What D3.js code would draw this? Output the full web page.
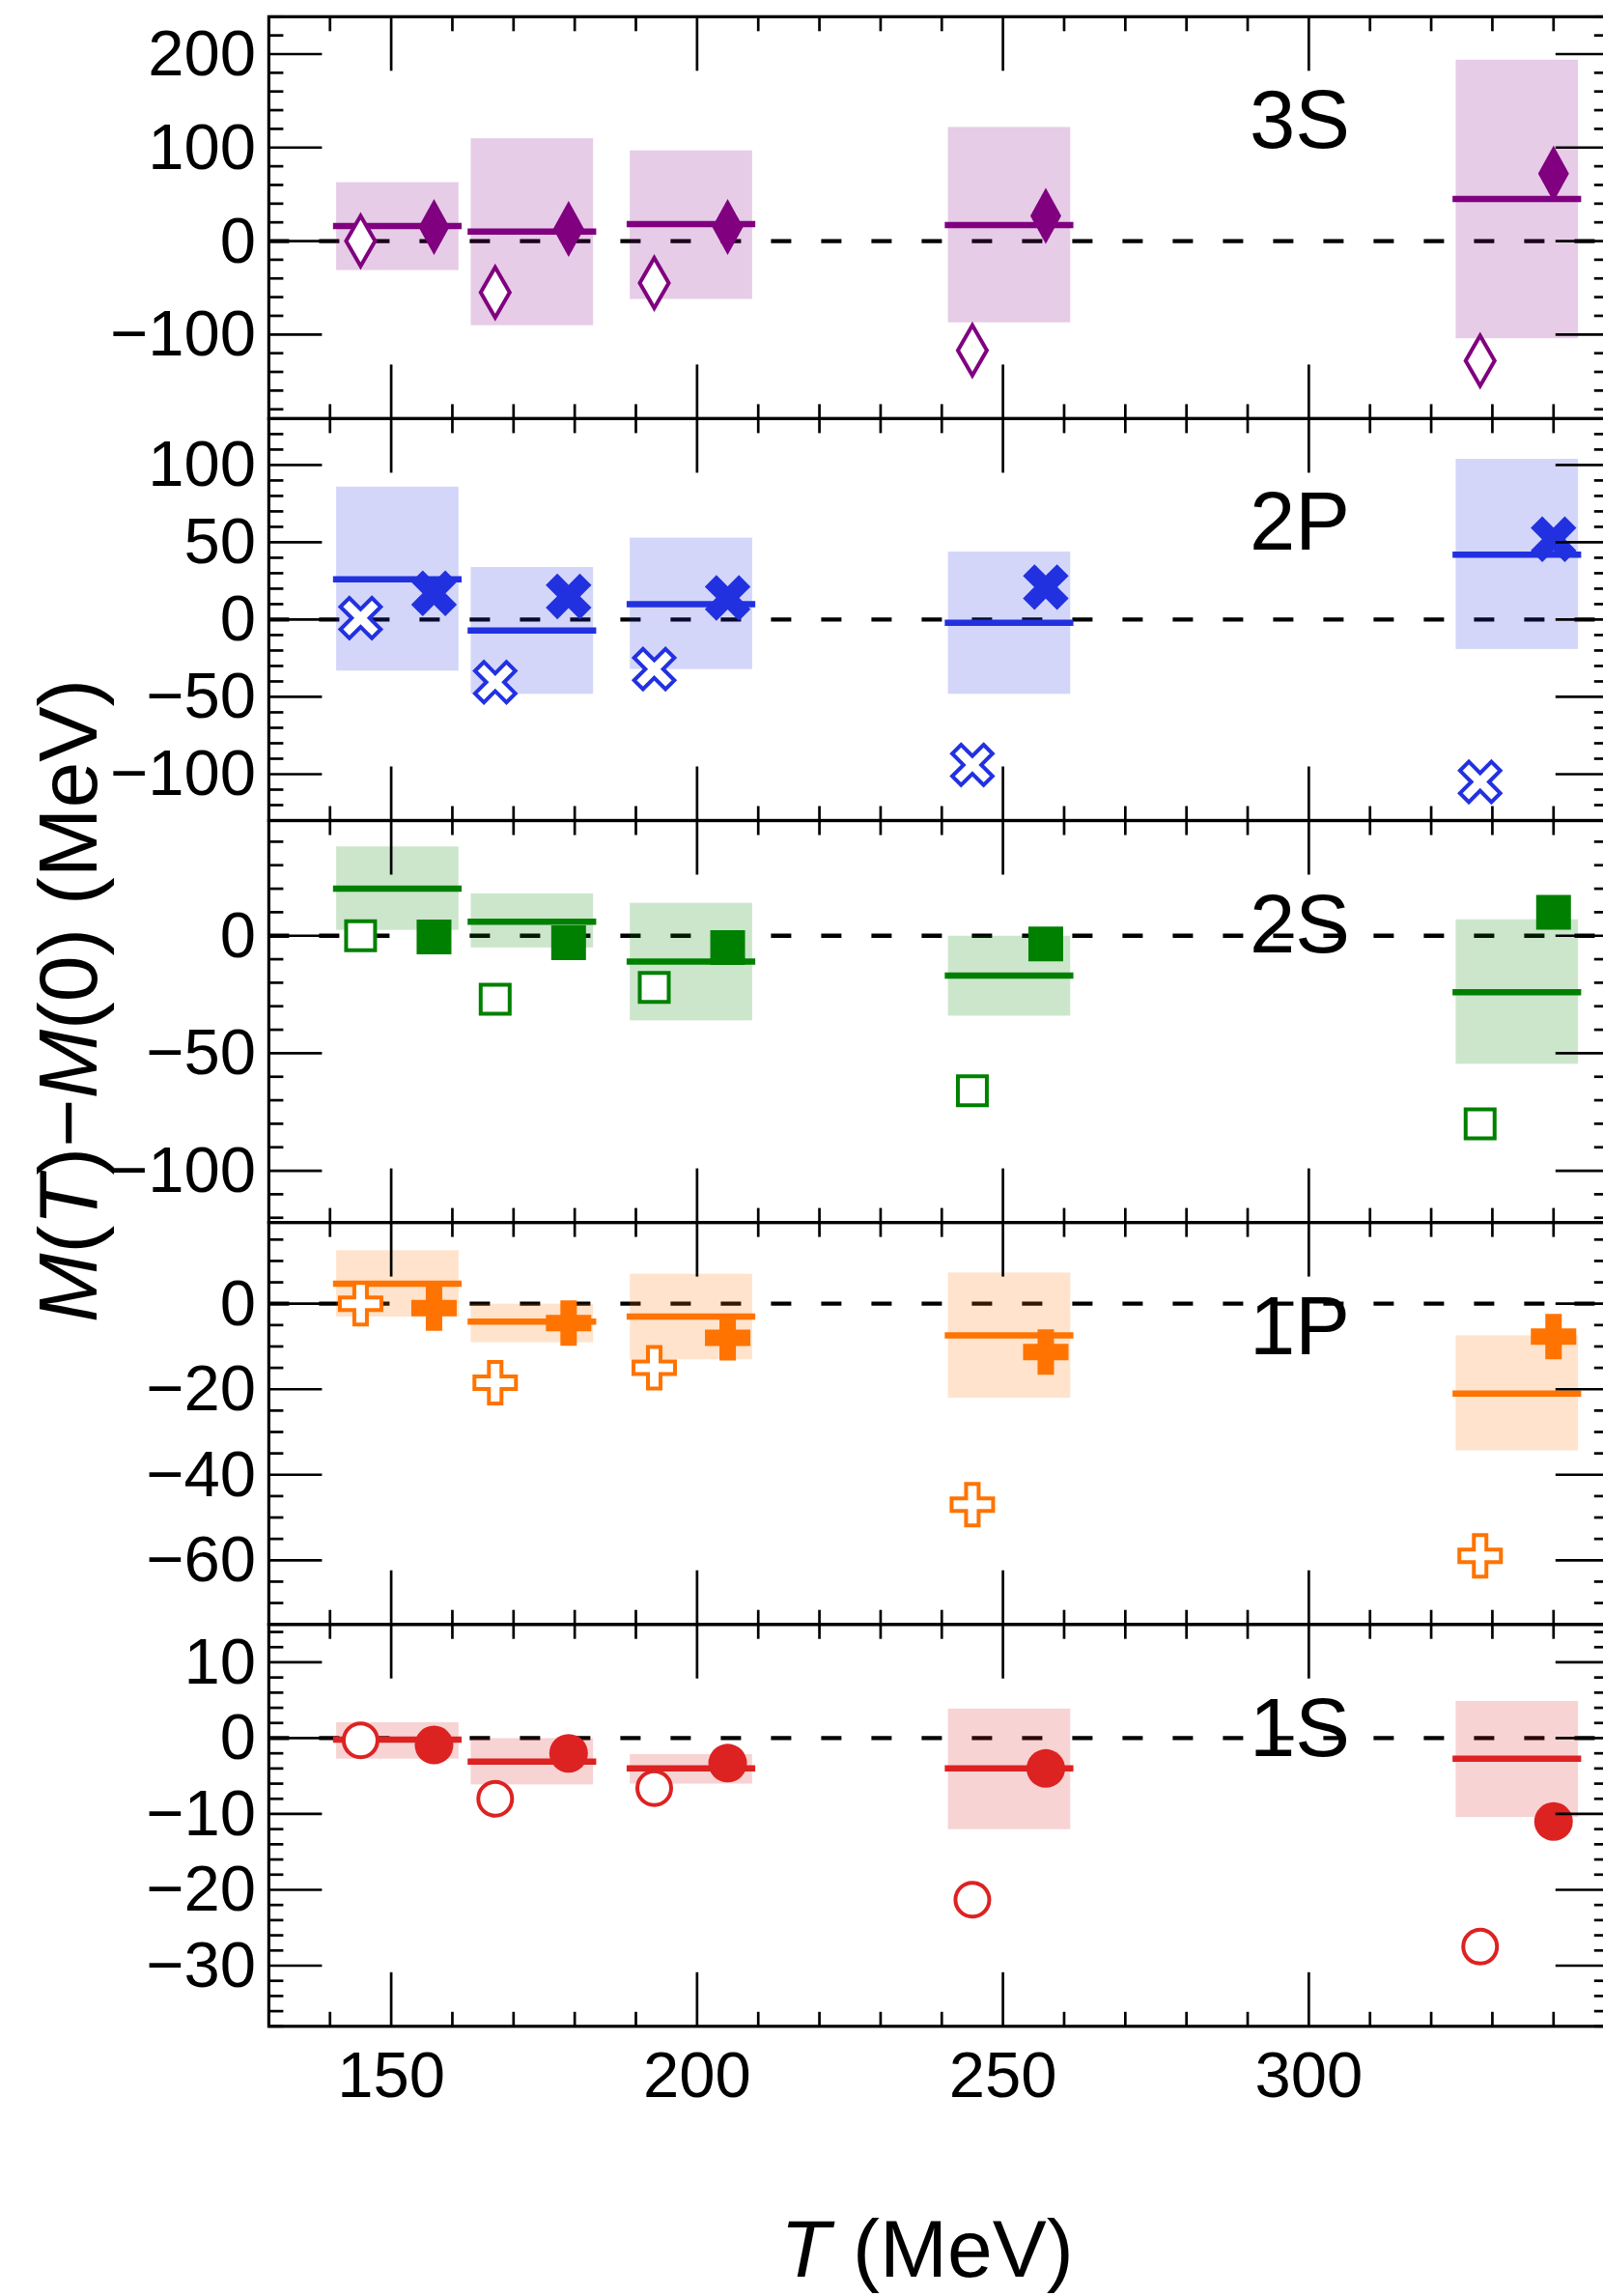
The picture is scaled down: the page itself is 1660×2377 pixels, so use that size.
<!DOCTYPE html>
<html><head><meta charset="utf-8">
<script src="https://cdn.jsdelivr.net/npm/d3@7"></script>
<style>body{margin:0;background:#fff}svg{display:block}</style>
</head><body>
<svg id="c" width="1660" height="2377"></svg>
<script>
// ---------- data ----------
const tOpen   = [145, 167, 193, 245, 328];
const tFilled = [157, 179, 205, 257, 340];
const boxLo   = [141, 163, 189, 241, 324];
const boxHi   = [161, 183, 209, 261, 344];

const stateNames = ["3S", "2P", "2S", "1P", "1S"];
const labelT = 298.5;

const open3S   = [0, -55, -45, -117, -128];
const filled3S = [15, 13, 15, 27, 72];
const line3S   = [16, 10, 18, 17, 45];
const top3S    = [63, 110, 97, 122, 194];
const bot3S    = [-31, -90, -62, -87, -104];

const open2P   = [1, -40.5, -32, -94, -105];
const filled2P = [17, 15, 14, 21, 52];
const line2P   = [26, -7, 10, -2, 42];
const top2P    = [86, 34, 53, 44, 104];
const bot2P    = [-33, -48, -32, -48, -19];

const open2S   = [0, -27, -22, -66, -80];
const filled2S = [-0.5, -3, -5, -3.5, 10];
const line2S   = [20, 6, -11, -17, -24];
const top2S    = [38, 18, 14, 0, 7];
const bot2S    = [2.5, -5, -36, -34, -54.5];

const open1P   = [0, -18.5, -15, -47, -59];
const filled1P = [-1, -4.5, -8, -11.3, -7.7];
const line1P   = [4.7, -4.2, -3, -7.4, -21];
const top1P    = [12.5, 0, 7, 7.3, -7.4];
const bot1P    = [-3, -9, -13, -22, -34.3];

const open1S   = [-0.3, -8, -6.6, -21.3, -27.5];
const filled1S = [-0.9, -2, -3.3, -4, -11];
const line1S   = [-0.2, -3.1, -4, -4, -2.7];
const top1S    = [2.1, 0, -2.1, 3.9, 4.9];
const bot1S    = [-2.7, -6.1, -6, -12, -10.4];

const yDomains   = [[-190, 240], [-130, 130], [-122, 49], [-75, 19], [-38, 15]];
const yMajorTicks = [[-100, 0, 100, 200], [-100, -50, 0, 50, 100], [-100, -50, 0], [-60, -40, -20, 0], [-30, -20, -10, 0, 10]];
const yMinorStep = [20, 10, 10, 5, 2];
const xDomain = [130, 349];
const xMajorTicks = [150, 200, 250, 300];
const xMinorStep = 10;

const colors  = ["#800080", "#2231E0", "#008000", "#FF7300", "#DD2222"];
const symbols = ["diamond", "xmark", "square", "plus", "circle"];

// ---------- layout ----------
const svg = d3.select("#c");
const FONT = "'Liberation Sans', Arial, Helvetica, sans-serif";
const plotTop = 17.3, panelH = 416.1;
const x = d3.scaleLinear().domain(xDomain).range([278.4, 1665.8]);

const series = [
  [open3S, filled3S, line3S, top3S, bot3S],
  [open2P, filled2P, line2P, top2P, bot2P],
  [open2S, filled2S, line2S, top2S, bot2S],
  [open1P, filled1P, line1P, top1P, bot1P],
  [open1S, filled1S, line1S, top1S, bot1S]
];

function diamondPath(hw, hh){ return `M0,${-hh}L${hw},0L0,${hh}L${-hw},0Z`; }
function plusPath(h, t){
  return `M${-t},${-h}L${t},${-h}L${t},${-t}L${h},${-t}L${h},${t}L${t},${t}L${t},${h}L${-t},${h}L${-t},${t}L${-h},${t}L${-h},${-t}L${-t},${-t}Z`;
}
function markerPath(sym, filled){
  switch(sym){
    case "diamond": return filled ? diamondPath(16, 29) : diamondPath(15, 26);
    case "plus": return filled ? plusPath(23.5, 8.5) : plusPath(21.5, 6.5);
    case "xmark": return filled ? plusPath(25, 8.5) : plusPath(23, 6.5);
    case "square": return filled ? "M-18,-18H18V18H-18Z" : "M-15,-15H15V15H-15Z";
    case "circle": {
      const r = filled ? 20 : 17.5;
      return d3.path ? `M${r},0A${r},${r} 0 1,1 ${-r},0A${r},${r} 0 1,1 ${r},0Z` : "";
    }
  }
}

const x0 = x(xDomain[0]), x1 = x(xDomain[1]);

stateNames.forEach((name, i) => {
  const top = plotTop + i * panelH, bot = top + panelH;
  const y = d3.scaleLinear().domain(yDomains[i]).range([bot, top]);
  const [openV, filledV, lineV, topV, botV] = series[i];
  const col = colors[i];
  const g = svg.append("g");

  // zero dashed line
  g.append("line")
    .attr("x1", x0).attr("x2", x1).attr("y1", y(0)).attr("y2", y(0))
    .attr("stroke", "#000").attr("stroke-width", 4.3)
    .attr("stroke-dasharray", "21,31");

  // boxes
  g.selectAll("rect.box").data(d3.range(5)).join("rect")
    .attr("x", k => x(boxLo[k])).attr("width", k => x(boxHi[k]) - x(boxLo[k]))
    .attr("y", k => y(topV[k])).attr("height", k => y(botV[k]) - y(topV[k]))
    .attr("fill", col).attr("fill-opacity", 0.2);

  // central lines
  g.selectAll("line.c").data(d3.range(5)).join("line")
    .attr("x1", k => x(boxLo[k])).attr("x2", k => x(boxHi[k]))
    .attr("y1", k => y(lineV[k])).attr("y2", k => y(lineV[k]))
    .attr("stroke", col).attr("stroke-width", 6.5).attr("stroke-linecap", "square");

  const rot = symbols[i] === "xmark" ? " rotate(45)" : "";
  // open markers
  g.selectAll("path.o").data(d3.range(5)).join("path")
    .attr("d", markerPath(symbols[i], false))
    .attr("transform", k => `translate(${x(tOpen[k])},${y(openV[k])})${rot}`)
    .attr("fill", "#fff").attr("stroke", col).attr("stroke-width", 4);
  // filled markers
  g.selectAll("path.f").data(d3.range(5)).join("path")
    .attr("d", markerPath(symbols[i], true))
    .attr("transform", k => `translate(${x(tFilled[k])},${y(filledV[k])})${rot}`)
    .attr("fill", col);

  // ticks
  const tk = svg.append("g").attr("stroke", "#000").attr("stroke-width", 2.7);
  const [lo, hi] = yDomains[i];
  const step = yMinorStep[i];
  const minorY = d3.range(Math.ceil(lo / step) * step, hi + 1e-9, step)
    .filter(v => !yMajorTicks[i].includes(v));
  minorY.forEach(v => {
    tk.append("line").attr("x1", x0).attr("x2", x0 + 15).attr("y1", y(v)).attr("y2", y(v));
    tk.append("line").attr("x1", x1).attr("x2", x1 - 15).attr("y1", y(v)).attr("y2", y(v));
  });
  yMajorTicks[i].forEach(v => {
    tk.append("line").attr("x1", x0).attr("x2", x0 + 55).attr("y1", y(v)).attr("y2", y(v));
    tk.append("line").attr("x1", x1).attr("x2", x1 - 55).attr("y1", y(v)).attr("y2", y(v));
  });
  const minorX = d3.range(Math.ceil(xDomain[0] / xMinorStep) * xMinorStep, xDomain[1] + 1e-9, xMinorStep)
    .filter(v => !xMajorTicks.includes(v));
  minorX.forEach(v => {
    tk.append("line").attr("x1", x(v)).attr("x2", x(v)).attr("y1", top).attr("y2", top + 15);
    tk.append("line").attr("x1", x(v)).attr("x2", x(v)).attr("y1", bot).attr("y2", bot - 15);
  });
  xMajorTicks.forEach(v => {
    tk.append("line").attr("x1", x(v)).attr("x2", x(v)).attr("y1", top).attr("y2", top + 56);
    tk.append("line").attr("x1", x(v)).attr("x2", x(v)).attr("y1", bot).attr("y2", bot - 56);
  });

  // y tick labels
  svg.append("g").selectAll("text").data(yMajorTicks[i]).join("text")
    .attr("x", 265).attr("y", v => y(v) + 22)
    .attr("text-anchor", "end")
    .attr("font-family", FONT).attr("font-size", 67)
    .text(v => v < 0 ? "\u2212" + Math.abs(v) : String(v));

  // panel frame
  svg.append("rect").attr("x", x0).attr("y", top).attr("width", x1 - x0).attr("height", panelH)
    .attr("fill", "none").attr("stroke", "#000").attr("stroke-width", 3.2);

  // state label
  svg.append("text").attr("x", x(labelT)).attr("y", top + 136)
    .attr("text-anchor", "middle").attr("font-family", FONT).attr("font-size", 85)
    .text(name);
});

// x tick labels (bottom panel)
const plotBot = plotTop + 5 * panelH;
svg.append("g").selectAll("text").data(xMajorTicks).join("text")
  .attr("x", v => x(v)).attr("y", plotBot + 73)
  .attr("text-anchor", "middle").attr("font-family", FONT).attr("font-size", 67)
  .text(v => v);

// x axis title
const xt = svg.append("text").attr("x", 960).attr("y", 2357)
  .attr("text-anchor", "middle").attr("font-family", FONT).attr("font-size", 84);
xt.append("tspan").attr("font-style", "italic").text("T");
xt.append("tspan").text(" (MeV)");

// y axis title
const yt = svg.append("text").attr("transform", "translate(100,1036) rotate(-90)")
  .attr("text-anchor", "middle").attr("font-family", FONT).attr("font-size", 86);
yt.append("tspan").attr("font-style", "italic").text("M");
yt.append("tspan").text("(");
yt.append("tspan").attr("font-style", "italic").text("T");
yt.append("tspan").text(")\u2212");
yt.append("tspan").attr("font-style", "italic").text("M");
yt.append("tspan").text("(0) (MeV)");
</script>
</body></html>
